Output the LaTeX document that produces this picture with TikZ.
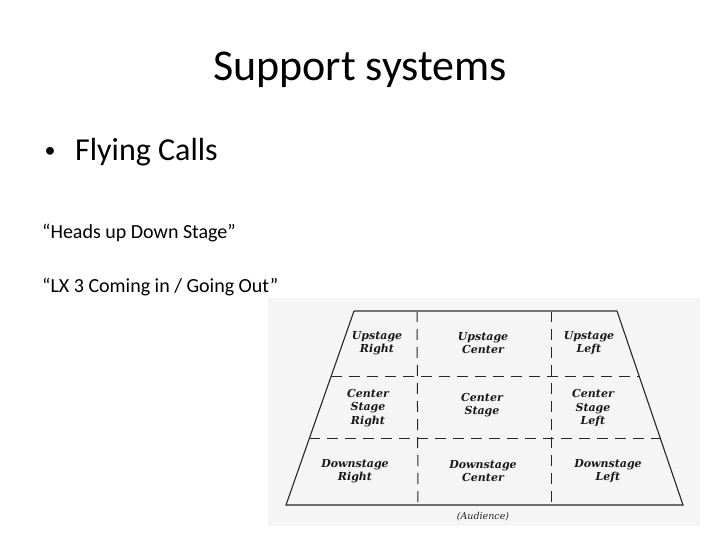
\documentclass[tikz,border=0pt]{standalone}
\usepackage{fontspec}
\setmainfont{Carlito}
\newfontfamily\stagefont{DejaVu Serif}
\usetikzlibrary{calc}
\begin{document}
\begin{tikzpicture}[x=1pt,y=-1pt,
  slidetext/.style={inner sep=0pt,anchor=base west,text=black},
  zonelabel/.style={font=\stagefont\bfseries\itshape\fontsize{11}{13.5}\selectfont,align=center,text=black!90,inner sep=0pt},
  stageline/.style={line width=1.1pt,black!85},
  zoneline/.style={line width=1pt,black!85,dash pattern=on 11pt off 7pt}]
\useasboundingbox (0,0) rectangle (720,540);
\fill[white] (0,0) rectangle (720,540);
% title and text
\node[inner sep=0pt,anchor=base,font=\fontsize{44}{50}\selectfont] (title) at (360,81) {Support systems};
\node[inner sep=0pt,font=\fontsize{22}{26}\selectfont] (bullet) at (50,152) {•};
\node[slidetext,font=\fontsize{32}{38}\selectfont] (flying) at (75,161) {Flying Calls};
\node[slidetext,font=\fontsize{20}{24}\selectfont] (heads) at (42,239) {“Heads up Down Stage”};
\node[slidetext,font=\fontsize{20}{24}\selectfont] (lx) at (42,292) {“LX 3 Coming in / Going Out”};
% photo background
\fill[black!4] (268,298) rectangle (700,526);
% stage corners
\coordinate (TL) at (354,311);
\coordinate (TR) at (617,311);
\coordinate (BR) at (683,505);
\coordinate (BL) at (286,505);
\coordinate (L1) at ($(TL)!0.34!(BL)$);
\coordinate (L2) at ($(TL)!0.655!(BL)$);
\coordinate (R1) at ($(TR)!0.34!(BR)$);
\coordinate (R2) at ($(TR)!0.655!(BR)$);
\coordinate (V1t) at (417,311);
\coordinate (V1b) at (418,505);
\coordinate (V2t) at (551,311);
\coordinate (V2b) at (551,505);
% dashed zone lines
\draw[zoneline] (L1) -- (R1);
\draw[zoneline] (L2) -- (R2);
\draw[zoneline] (V1t) -- (V1b);
\draw[zoneline] (V2t) -- (V2b);
% outline
\draw[line width=1.8pt,black!55] (TL) -- (TR);
\draw[stageline] (TR) -- (BR) -- (BL) -- (TL);
% labels
\node[zonelabel] (usr) at (377,343) {Upstage\\Right};
\node[zonelabel] (usc) at (483,343) {Upstage\\Center};
\node[zonelabel] (usl) at (589,343) {Upstage\\Left};
\node[zonelabel] (csr) at (368,408) {Center\\Stage\\Right};
\node[zonelabel] (csc) at (482,405) {Center\\Stage};
\node[zonelabel] (csl) at (593,408) {Center\\Stage\\Left};
\node[zonelabel] (dsr) at (355,471) {Downstage\\Right};
\node[zonelabel] (dsc) at (483,471) {Downstage\\Center};
\node[zonelabel] (dsl) at (608,471) {Downstage\\Left};
\node[inner sep=0pt,font=\stagefont\itshape\fontsize{9.5}{11}\selectfont,text=black!85] (aud) at (483,517) {(Audience)};
\end{tikzpicture}
\end{document}
